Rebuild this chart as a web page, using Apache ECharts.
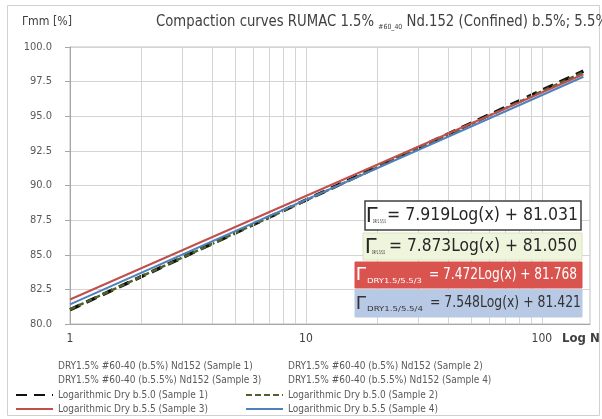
<!DOCTYPE html>
<html><head><meta charset="utf-8">
<script src="https://cdn.jsdelivr.net/npm/echarts@6/dist/echarts.min.js"></script>
<style>html,body{margin:0;padding:0;background:#fff}#c{width:602px;height:419px}</style>
</head><body><div id="c"></div>
<script>
// ---- data ----
const xValues = [1, 150];
const sample1 = [81.03, 98.26];
const sample2 = [81.05, 98.18];
const sample3 = [81.77, 98.03];
const sample4 = [81.42, 97.85];
const xGridValues = [2,3,4,5,6,7,8,9,10,20,30,40,50,60,70,80,90,100];
const xTickLabels = [1, 10, 100];
const dataNames = [
  'DRY1.5% #60-40 (b.5%) Nd152 (Sample 1)',
  'DRY1.5% #60-40 (b.5%) Nd152 (Sample 2)',
  'DRY1.5% #60-40 (b.5.5%) Nd152 (Sample 3)',
  'DRY1.5% #60-40 (b.5.5%) Nd152 (Sample 4)'
];
const trendNames = [
  'Logarithmic Dry b.5.0 (Sample 1)',
  'Logarithmic Dry b.5.0 (Sample 2)',
  'Logarithmic Dry b.5.5 (Sample 3)',
  'Logarithmic Dry b.5.5 (Sample 4)'
];
const titleParts = ['Compaction curves RUMAC 1.5% ', '#60_40', ' Nd.152 (Confined) b.5%; 5.5%'];
const eqSubs = ['DRY1.5/5/1', 'DRY1.5/5/2', 'DRY1.5/5.5/3', 'DRY1.5/5.5/4'];
const eqTexts = ['= 7.919Log(x) + 81.031', '= 7.873Log(x) + 81.050', '= 7.472Log(x) + 81.768', '= 7.548Log(x) + 81.421'];

const NARROW = '"DejaVu Sans Condensed", "Liberation Sans Narrow", "Liberation Sans", Arial, sans-serif';
const SANS = '"Liberation Sans", Arial, sans-serif';
const pts = arr => xValues.map((x, i) => [x, arr[i]]);

const mctx = document.createElement('canvas').getContext('2d');
function measure(text, font) { mctx.font = font; return mctx.measureText(text).width; }
function fitText(text, size, family, x, yc, width, color, weight, z) {
  const font = (weight ? weight + ' ' : '') + size + 'px ' + family;
  const w = measure(text, font);
  return {type: 'text', x: x, y: yc, scaleX: width / w, scaleY: 1, z: z || 110, silent: true,
    style: {text: text, font: font, fill: color, textAlign: 'left', verticalAlign: 'middle'}};
}

const chart = echarts.init(document.getElementById('c'), null, {renderer: 'canvas'});

const trendStyles = [
  {color: '#111111', width: 3.5, type: [11, 7]},
  {color: '#4f6228', width: 2.5, type: [6, 3]},
  {color: '#c0504d', width: 2, type: 'solid'},
  {color: '#4f81bd', width: 2, type: 'solid'}
];
const trendData = [sample1, sample2, sample3, sample4];

const series = [];
dataNames.forEach(n => series.push({
  name: n, type: 'line', data: [], symbol: 'none',
  lineStyle: {opacity: 0}, itemStyle: {opacity: 0}
}));
series.push({
  name: '_grid', type: 'line', data: [], symbol: 'none', silent: true,
  markLine: {
    silent: true, symbol: 'none', label: {show: false},
    lineStyle: {color: '#d4d4d4', width: 1, type: 'solid'},
    animation: false,
    data: xGridValues.map(v => ({xAxis: v}))
  }
});
[1, 3, 0, 2].forEach(i => series.push({
  name: trendNames[i], type: 'line', data: pts(trendData[i]),
  symbol: 'none', z: 3 + i,
  lineStyle: trendStyles[i], itemStyle: {color: trendStyles[i].color}
}));

const legendPos = [
  [dataNames[0], 15, 361], [dataNames[1], 245, 361],
  [dataNames[2], 15, 375], [dataNames[3], 245, 375],
  [trendNames[0], 15, 390], [trendNames[1], 245, 390],
  [trendNames[2], 15, 404], [trendNames[3], 245, 404]
];
const legends = legendPos.map(([n, l, t]) => ({
  data: [n], left: l, top: t, padding: 0, itemWidth: 37, itemHeight: 10,
  selectedMode: false, itemStyle: {opacity: 0},
  textStyle: {fontFamily: NARROW, fontSize: 10, color: '#595959'}
}));

const boxes = [
  {x: 365, y: 201, w: 216, h: 29, fill: '#ffffff', stroke: '#404040', lw: 1.5, color: '#262626',
   gx: 366, gs: 22, sx: 373, sw: 13, ss: 5, tx: 387, tw: 191, ts: 18},
  {x: 363, y: 233, w: 219, h: 27, fill: '#eef5dc', stroke: '#d7e4bd', lw: 1, color: '#262626',
   gx: 365, gs: 22, sx: 372, sw: 13, ss: 5, tx: 389, tw: 188, ts: 18},
  {x: 355, y: 262, w: 227, h: 26, fill: '#d9534f', stroke: '#d9534f', lw: 1, color: '#ffffff',
   gx: 356, gs: 19, sx: 367, sw: 55, ss: 7, tx: 429, tw: 148, ts: 15},
  {x: 355, y: 290, w: 227, h: 27, fill: '#b7c9e5', stroke: '#b7c9e5', lw: 1, color: '#333333',
   gx: 356, gs: 19, sx: 367, sw: 56, ss: 7, tx: 430, tw: 151, ts: 15}
];

// title: three parts laid out with a common horizontal scale
const tFonts = ['15px ' + NARROW, '7px ' + NARROW, '15px ' + NARROW];
const tW = titleParts.map((t, i) => measure(t, tFonts[i]));
const tStart = 156, tEnd = 608;
const tScale = (tEnd - tStart) / tW.reduce((a, b) => a + b, 0);
const titleGraphics = [];
let tx = tStart;
titleParts.forEach((t, i) => {
  titleGraphics.push({type: 'text', x: tx, y: i === 1 ? 27 : 22, scaleX: tScale, silent: true,
    style: {text: t, font: tFonts[i], fill: '#404040', verticalAlign: 'middle'}});
  tx += tW[i] * tScale;
});

const graphics = [
  {type: 'rect', shape: {x: 7.5, y: 5.5, width: 592, height: 410}, style: {fill: 'none', stroke: '#d0d0d0', lineWidth: 1}, silent: true},
  fitText('Γmm [%]', 13, NARROW, 22, 22, 50, '#404040'),
  ...titleGraphics,
  {type: 'text', left: 562, top: 332, style: {text: 'Log N', font: 'bold 13px ' + NARROW, fill: '#404040'}}
];
boxes.forEach((b, i) => {
  const yc = b.y + b.h / 2;
  graphics.push({type: 'rect', shape: {x: b.x, y: b.y, width: b.w, height: b.h},
    style: {fill: b.fill, stroke: b.stroke, lineWidth: b.lw}, z: 100, silent: true});
  graphics.push({type: 'text', x: b.gx, y: yc, z: 110, silent: true,
    style: {text: 'Γ', font: b.gs + 'px ' + SANS, fill: b.color, verticalAlign: 'middle'}});
  graphics.push(fitText(eqSubs[i], b.ss, NARROW, b.sx, yc + b.h * 0.22, b.sw, b.color));
  graphics.push(fitText(eqTexts[i], b.ts, NARROW, b.tx, yc, b.tw, b.color));
});

chart.setOption({
  animation: false,
  backgroundColor: '#ffffff',
  legend: legends,
  grid: {left: 70, right: 12, top: 47, bottom: 95, show: true, borderColor: '#bfbfbf', borderWidth: 1, backgroundColor: 'transparent'},
  xAxis: {
    type: 'log', logBase: 10, min: 1, max: 160,
    axisLine: {show: true, lineStyle: {color: '#a6a6a6'}},
    axisTick: {show: false},
    splitLine: {show: false},
    axisLabel: {
      margin: 9, fontFamily: NARROW, fontSize: 12, color: '#404040',
      formatter: v => (xTickLabels.indexOf(Math.round(v)) >= 0 && Math.abs(v - Math.round(v)) < 1e-6) ? String(Math.round(v)) : ''
    }
  },
  yAxis: {
    type: 'value', min: 80, max: 100, interval: 2.5,
    axisLine: {show: true, lineStyle: {color: '#a6a6a6'}},
    axisTick: {show: true, inside: false, length: 5, lineStyle: {color: '#a6a6a6'}},
    splitLine: {show: true, lineStyle: {color: '#d4d4d4', width: 1}},
    axisLabel: {margin: 18, fontFamily: NARROW, fontSize: 11, color: '#595959', formatter: v => v.toFixed(1)}
  },
  graphic: graphics,
  series: series
});
</script>
</body></html>
